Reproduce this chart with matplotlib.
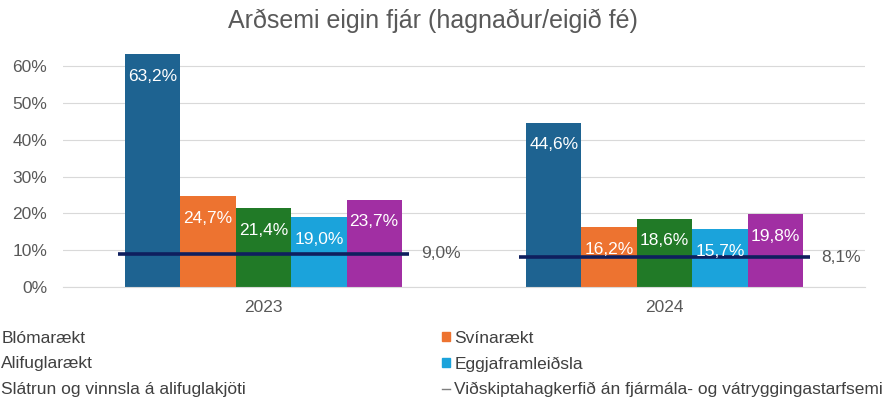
import matplotlib
matplotlib.use("Agg")
import matplotlib.pyplot as plt
import numpy as np
from matplotlib.patches import Patch
from matplotlib.lines import Line2D

plt.rcParams['font.family'] = ['Liberation Sans', 'DejaVu Sans']

years = ['2023', '2024']
series = ['Blómarækt', 'Svínarækt', 'Alifuglarækt', 'Eggjaframleiðsla',
          'Slátrun og vinnsla á alifuglakjöti']
values = [
    [63.2, 44.6],   # Blómarækt
    [24.7, 16.2],   # Svínarækt
    [21.4, 18.6],   # Alifuglarækt
    [19.0, 15.7],   # Eggjaframleiðsla
    [23.7, 19.8],   # Slátrun og vinnsla
]
economy_label = 'Viðskiptahagkerfið án fjármála- og vátryggingastarfsemi'
economy = [9.0, 8.1]

colors = ['#1E6391', '#ED7330', '#217A27', '#1BA3DB', '#A12FA3']
line_color = '#0F1F5E'
txt = '#595959'

fig = plt.figure(figsize=(8.92, 4.05), dpi=100)
ax = fig.add_axes([63 / 892, 1 - 287 / 405, 802 / 892, 243 / 405])

x = np.arange(len(years))
w = 0.138
for i, (name, vals) in enumerate(zip(series, values)):
    pos = x + (i - 2) * w
    bars = ax.bar(pos, np.array(vals) / 100, w, color=colors[i], label=name, zorder=2)
    for b, v in zip(bars, vals):
        ax.annotate(f'{v:.1f}%'.replace('.', ','), (b.get_x() + b.get_width() / 2, b.get_height()),
                    xytext=(0, -10.5), textcoords='offset points', ha='center', va='top',
                    color='white', fontsize=12.5, zorder=4)

half = 0.362
ax.hlines(np.array(economy) / 100, x - half, x + half, color=line_color, lw=2.6, zorder=3)
for xi, v in zip(x, economy):
    ax.text(xi + half + 0.03, v / 100, f'{v:.1f}%'.replace('.', ','), va='center', ha='left',
            color=txt, fontsize=12.5)

ax.set_xlim(-0.5, 1.5)
ax.set_ylim(0, 0.66)
ax.set_yticks(np.arange(0, 0.61, 0.1))
ax.set_yticklabels([f'{int(round(t * 100))}%' for t in np.arange(0, 0.61, 0.1)])
ax.set_xticks(x)
ax.set_xticklabels(years)
ax.tick_params(length=0, labelsize=12.5, colors=txt)
ax.tick_params(axis='x', pad=9)
ax.tick_params(axis='y', pad=11.5)
ax.yaxis.grid(True, color='#D9D9D9', lw=0.8, zorder=0)
ax.set_axisbelow(True)
for s in ['top', 'right', 'left']:
    ax.spines[s].set_visible(False)
ax.spines['bottom'].set_color('#D9D9D9')

fig.text(0.485, 1 - 21 / 405, 'Arðsemi eigin fjár (hagnaður/eigið fé)', ha='center', va='center',
         fontsize=18, color=txt)

handles = [Patch(color=colors[0]), Patch(color=colors[2]), Patch(color=colors[4]),
           Patch(color=colors[1]), Patch(color=colors[3]),
           Line2D([], [], color='#7F7F7F', lw=1)]
labels = [series[0], series[2], series[4], series[1], series[3], economy_label]
fig.legend(handles, labels, loc='upper left', bbox_to_anchor=(-11 / 892, 1 - 331 / 405),
           ncol=2, frameon=False, fontsize=12.5, handlelength=0.45, handleheight=0.45,
           handletextpad=0.25, columnspacing=11.3, labelspacing=0.6,
           borderpad=0, borderaxespad=0, labelcolor='#404040')

fig.savefig('out.png', dpi=100)
